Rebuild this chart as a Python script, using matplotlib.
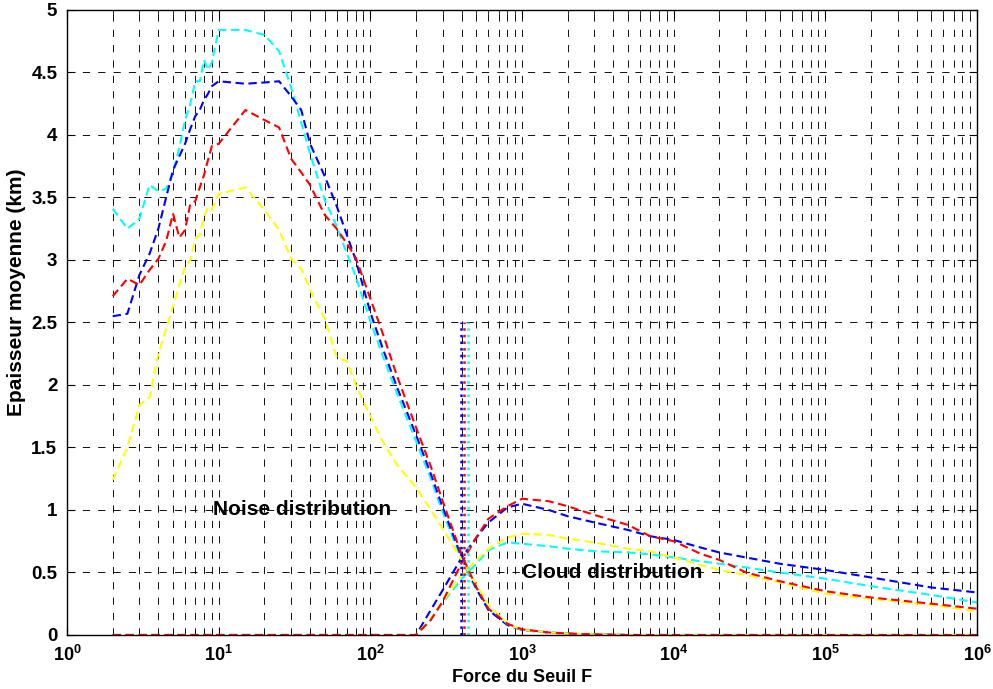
import numpy as np
import matplotlib
matplotlib.use('Agg')
import matplotlib.pyplot as plt
from matplotlib.ticker import FixedLocator, FixedFormatter, LogLocator, NullFormatter

plt.rcParams['font.family'] = ['Liberation Sans', 'DejaVu Sans']
plt.rcParams['mathtext.fontset'] = 'custom'
plt.rcParams['mathtext.bf'] = 'Liberation Sans:bold'
plt.rcParams['mathtext.rm'] = 'Liberation Sans:bold'

# threshold values for the "noise" curves
F_noise = [2, 2.5, 3, 3.5, 4, 4.5, 5, 5.5, 6, 6.5, 7, 7.5, 8, 8.5, 9, 10,
           15, 20, 25, 30, 35, 40, 50, 60, 70, 80, 100, 120, 150, 200, 250, 300,
           400, 500, 600, 800, 1000, 1500, 2000, 3000, 5000, 1e4, 1e5, 1e6]
noise_cyan = [3.41, 3.25, 3.33, 3.6, 3.55, 3.57, 3.7, 3.9, 4.12, 4.25, 4.43, 4.43, 4.6, 4.52, 4.58, 4.84,
              4.84, 4.8, 4.67, 4.38, 4.1, 3.85, 3.48, 3.27, 3.05, 2.87, 2.51, 2.24, 1.93, 1.55, 1.25, 0.98,
              0.6, 0.36, 0.2, 0.08, 0.04, 0.02, 0.01, 0.005, 0, 0, 0, 0]
noise_blue = [2.55, 2.57, 2.88, 3.05, 3.25, 3.5, 3.72, 3.83, 3.93, 4.05, 4.15, 4.2, 4.28, 4.33, 4.39, 4.43,
              4.41, 4.42, 4.43, 4.31, 4.2, 3.93, 3.67, 3.43, 3.2, 3.0, 2.58, 2.3, 1.98, 1.6, 1.29, 1.02,
              0.62, 0.37, 0.2, 0.08, 0.04, 0.02, 0.01, 0.005, 0, 0, 0, 0]
noise_red = [2.71, 2.85, 2.8, 2.92, 3.01, 3.15, 3.37, 3.18, 3.24, 3.45, 3.47, 3.58, 3.68, 3.8, 3.91, 3.93,
             4.2, 4.12, 4.06, 3.81, 3.7, 3.6, 3.36, 3.25, 3.13, 3.02, 2.69, 2.42, 2.07, 1.66, 1.35, 1.07,
             0.64, 0.38, 0.21, 0.09, 0.045, 0.02, 0.012, 0.005, 0, 0, 0, 0]
noise_yellow = [1.24, 1.5, 1.84, 1.9, 2.25, 2.45, 2.63, 2.8, 2.95, 3.0, 3.17, 3.2, 3.35, 3.42, 3.4, 3.53,
                3.58, 3.4, 3.24, 3.01, 2.93, 2.76, 2.53, 2.22, 2.19, 2.0, 1.75, 1.55, 1.36, 1.18, 1.0, 0.85,
                0.6, 0.4, 0.24, 0.09, 0.04, 0.02, 0.01, 0.005, 0, 0, 0, 0]

# threshold values for the "cloud" curves
F_cloud = [2, 200, 250, 300, 400, 500, 600, 800, 1000, 1500, 2000, 3000, 5000, 7000,
           1e4, 1.5e4, 2e4, 3e4, 5e4, 1e5, 2e5, 5e5, 1e6]
cloud_cyan = [0, 0, 0.12, 0.26, 0.45, 0.57, 0.68, 0.74, 0.73, 0.71, 0.69, 0.67, 0.66, 0.645,
              0.62, 0.59, 0.57, 0.54, 0.5, 0.45, 0.39, 0.32, 0.26]
cloud_blue = [0, 0, 0.2, 0.36, 0.62, 0.78, 0.9, 1.02, 1.05, 1.0, 0.95, 0.9, 0.84, 0.79,
              0.76, 0.7, 0.66, 0.62, 0.57, 0.52, 0.46, 0.38, 0.34]
cloud_red = [0, 0, 0.12, 0.27, 0.58, 0.78, 0.93, 1.03, 1.09, 1.07, 1.03, 0.96, 0.88, 0.79,
             0.75, 0.65, 0.6, 0.5, 0.43, 0.35, 0.3, 0.25, 0.21]
cloud_yellow = [0, 0, 0.13, 0.27, 0.48, 0.6, 0.69, 0.78, 0.81, 0.8, 0.77, 0.74, 0.69, 0.67,
                0.62, 0.56, 0.52, 0.48, 0.42, 0.33, 0.29, 0.24, 0.19]

# crossing thresholds (vertical markers)
F_cross = {'#0000ff': 396, '#ff0000': 415, '#00ffff': 441}
cross_height = 2.5

CYAN, BLUE, YELLOW, RED = '#00ffff', '#0000ff', '#ffff00', '#ff0000'

fig = plt.figure(figsize=(9.93, 6.89), dpi=100)
ax = fig.add_axes([0.0675, 0.0784, 0.9165, 0.9071])

dash = (0, (4, 2.2))
lw = 1.5
for col, yn, yc in [(CYAN, noise_cyan, cloud_cyan), (BLUE, noise_blue, cloud_blue),
                    (YELLOW, noise_yellow, cloud_yellow), (RED, noise_red, cloud_red)]:
    ax.plot(F_noise, yn, color=col, linestyle=dash, linewidth=lw)
    ax.plot(F_cloud, yc, color=col, linestyle=dash, linewidth=lw)

for col, fx in F_cross.items():
    ax.plot([fx, fx], [0, cross_height], color=col, linestyle=':', linewidth=1.8)

ax.set_xscale('log')
ax.set_xlim(1, 1e6)
ax.set_ylim(0, 5)

ax.xaxis.set_major_locator(FixedLocator([10.0 ** k for k in range(7)]))
ax.xaxis.set_major_formatter(FixedFormatter([r'$\mathbf{10^{%d}}$' % k for k in range(7)]))
ax.xaxis.set_minor_locator(LogLocator(base=10, subs=np.arange(2, 10), numticks=20))
ax.xaxis.set_minor_formatter(NullFormatter())
ax.set_yticks(np.arange(0, 5.01, 0.5))
ax.set_yticklabels(['0', '0.5', '1', '1.5', '2', '2.5', '3', '3.5', '4', '4.5', '5'])

ax.grid(True, which='major', color='black', linestyle=(0, (8, 9)), linewidth=0.65)
ax.grid(True, which='minor', axis='x', color='black', linestyle=(0, (8, 9)), linewidth=0.65)
ax.tick_params(which='both', direction='in', top=True, right=True)
ax.tick_params(axis='x', labelsize=13)
ax.tick_params(axis='y', labelsize=13.5)
ax.tick_params(which='major', length=6, width=0.8, pad=7)
ax.tick_params(which='minor', length=3, width=0.6)
for lab in ax.get_yticklabels():
    lab.set_fontweight('bold')
for sp in ax.spines.values():
    sp.set_linewidth(1.0)

ax.text(9.2, 1.0, 'Noise distribution', fontsize=15, fontweight='bold', ha='left', va='center')
ax.text(1000, 0.5, 'Cloud distribution', fontsize=15, fontweight='bold', ha='left', va='center')

ax.set_xlabel('Force du Seuil F', fontsize=13, fontweight='bold', labelpad=3)
ax.set_ylabel('Epaisseur moyenne (km)', fontsize=15, fontweight='bold')
ax.yaxis.set_label_coords(-0.045, 0.549)

fig.savefig('out.png', dpi=100)
